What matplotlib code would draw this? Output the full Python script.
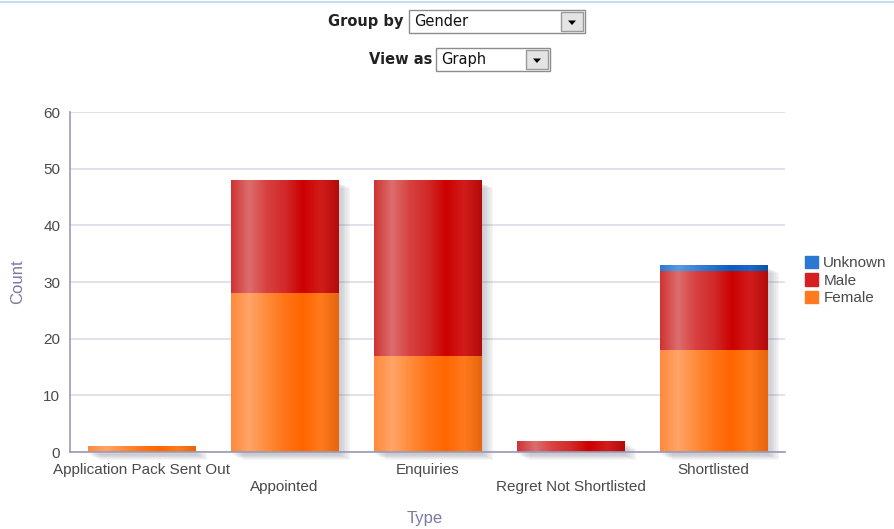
import numpy as np
import matplotlib
matplotlib.use("Agg")
import matplotlib.pyplot as plt
from matplotlib.patches import Rectangle, Polygon
from matplotlib.colors import LinearSegmentedColormap

categories = ["Application Pack Sent Out", "Appointed", "Enquiries",
              "Regret Not Shortlisted", "Shortlisted"]
female = [1, 28, 17, 0, 18]
male = [0, 20, 31, 2, 14]
unknown = [0, 0, 0, 0, 1]
series_names = ["Female", "Male", "Unknown"]
y_ticks = [0, 10, 20, 30, 40, 50, 60]

plt.rcParams['font.family'] = ['Liberation Sans', 'DejaVu Sans']

fig = plt.figure(figsize=(8.95, 5.29), dpi=100)
W, H = 895, 529
ax = fig.add_axes([70 / W, 1 - 452 / H, (785 - 70) / W, 340 / H])

grads = {
    "Female": ["#ff8a3c", "#ffa468", "#ff8c3a", "#ff7418", "#ff6600", "#ff7a1c", "#e8650e"],
    "Male": ["#d03232", "#dc6e6e", "#d84040", "#d22a2a", "#cc0000", "#d21c1c", "#b40a0a"],
    "Unknown": ["#2a78d4", "#5a9ae0", "#3a84d8", "#2070cc", "#0a5ec0", "#1a68c8", "#0d52a8"],
}
legend_col = {"Female": "#ff7a1e", "Male": "#d42020", "Unknown": "#2a78d0"}

x = np.arange(len(categories))
width = 0.755
bottoms = np.zeros(len(categories))
grad_img = np.linspace(0, 1, 256).reshape(1, -1)

# shadows
tot = np.array(female) + np.array(male) + np.array(unknown)
for i in range(len(categories)):
    for k in range(7):
        off = 0.012 * (k + 1)
        ax.add_patch(Rectangle((x[i] - width / 2 + off, -0.5 - 0.15 * k), width, tot[i],
                               facecolor="#5a6070", alpha=0.05, edgecolor="none", zorder=1,
                               clip_on=False))

for name, vals in zip(series_names, [female, male, unknown]):
    cmap = LinearSegmentedColormap.from_list(name, grads[name])
    bars = ax.bar(x, vals, width, bottom=bottoms, color=legend_col[name],
                  edgecolor="none", label=name, zorder=2)
    for b in bars:
        if b.get_height() <= 0:
            continue
        x0, y0 = b.get_x(), b.get_y()
        im = ax.imshow(grad_img, cmap=cmap, aspect="auto",
                       extent=(x0, x0 + b.get_width(), y0, y0 + b.get_height()),
                       zorder=3, interpolation="bilinear")
        im.set_clip_path(b)
    bottoms = bottoms + np.array(vals)

ax.set_xlim(-0.5, len(categories) - 0.5)
ax.set_ylim(0, 60)
ax.set_yticks(y_ticks)
ax.set_yticklabels([str(t) for t in y_ticks], color="#4a4a4a", fontsize=11)
ax.yaxis.grid(True, color="#dcdce8", linewidth=1.2, zorder=0)
ax.set_axisbelow(True)
ax.set_xticks(x)
ax.set_xticklabels([])
ax.tick_params(axis="both", length=0, pad=7)
for s in ["top", "right"]:
    ax.spines[s].set_visible(False)
for s in ["left", "bottom"]:
    ax.spines[s].set_color("#9a9ab8")
    ax.spines[s].set_linewidth(1.2)
    ax.spines[s].set_zorder(5)

for i, c in enumerate(categories):
    ypix = 470 if i % 2 == 0 else 487
    ax.text(x[i], -(ypix - 452) / 340, c, transform=ax.get_xaxis_transform(),
            ha="center", va="center", fontsize=11, color="#4a4a4a")

ax.set_ylabel("Count", color="#7a7aa6", fontsize=12, labelpad=13)
fig.text(425 / W, 1 - 518 / H, "Type", ha="center", va="center", color="#7a7aa6", fontsize=12)

# legend
handles = [Rectangle((0, 0), 1, 1, color=legend_col[n]) for n in ["Unknown", "Male", "Female"]]
leg = fig.legend(handles, ["Unknown", "Male", "Female"], loc="upper left",
                 bbox_to_anchor=(805 / W, 1 - 256 / H), frameon=False, fontsize=11,
                 handlelength=0.85, handleheight=0.85, handletextpad=0.35, labelspacing=0.2,
                 borderaxespad=0, borderpad=0)
for t in leg.get_texts():
    t.set_color("#4a4a4a")

# top line
fig.add_artist(plt.Line2D([0, 1], [1 - 1.5 / H, 1 - 1.5 / H], color="#c8dcf0", linewidth=1.5))

# widgets
def widget(label, value, lx, bx0, bx1, y0, y1):
    yc = 1 - ((y0 + y1) / 2) / H
    fig.text(lx / W, yc, label, ha="right", va="center", fontsize=10.5,
             fontweight="bold", family="DejaVu Sans", color="#222222")
    fig.add_artist(Rectangle((bx0 / W, 1 - y1 / H), (bx1 - bx0) / W, (y1 - y0) / H,
                             transform=fig.transFigure, facecolor="white",
                             edgecolor="#8c8c8c", linewidth=1))
    fig.text((bx0 + 5) / W, yc, value, ha="left", va="center", fontsize=10.5,
             family="DejaVu Sans", color="#111111")
    btn0 = bx1 - 24
    fig.add_artist(Rectangle(((btn0) / W, 1 - (y1 - 2) / H), 22 / W, (y1 - y0 - 4) / H,
                             transform=fig.transFigure, facecolor="#e4e4e4",
                             edgecolor="#9a9a9a", linewidth=1))
    cx = btn0 + 11
    cy = (y0 + y1) / 2 + 1
    fig.add_artist(Polygon([((cx - 4) / W, 1 - (cy - 2) / H), ((cx + 4) / W, 1 - (cy - 2) / H),
                            (cx / W, 1 - (cy + 2.5) / H)], closed=True,
                           transform=fig.transFigure, facecolor="black", edgecolor="none"))

widget("Group by", "Gender", 403, 409, 585, 10, 33)
widget("View as", "Graph", 432, 436, 550, 48, 71)

fig.savefig("out.png", dpi=100)
